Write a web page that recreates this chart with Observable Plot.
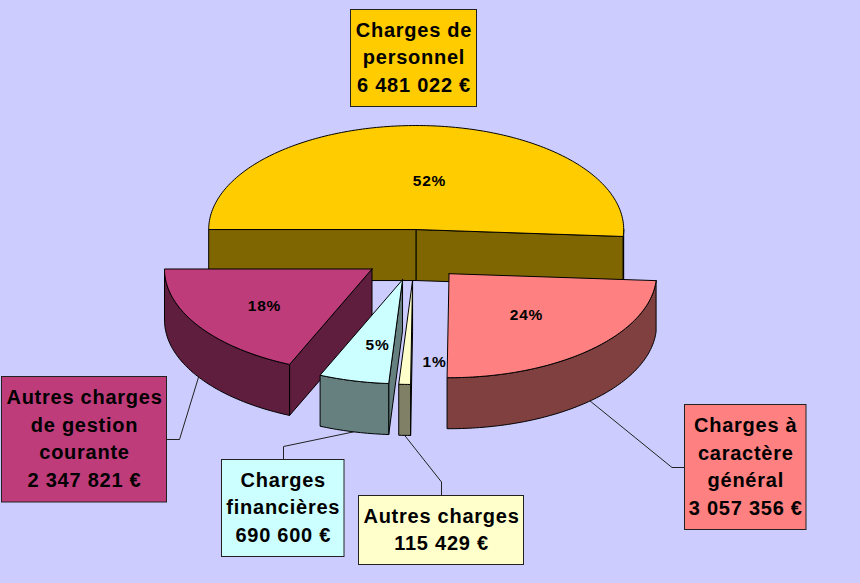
<!DOCTYPE html>
<html>
<head>
<meta charset="utf-8">
<script src="https://cdn.jsdelivr.net/npm/d3@7"></script>
<script src="https://cdn.jsdelivr.net/npm/@observablehq/plot@0.6"></script>
<style>html,body{margin:0;padding:0;background:#CCCCFF}svg{display:block}</style>
</head>
<body>
<div id="chart"></div>
<script>
// Data, clockwise from the left edge of the pie
const categories = ["Charges de\npersonnel", "Charges à\ncaractère\ngénéral", "Autres charges", "Charges\nfinancières", "Autres charges\nde gestion\ncourante"];
const amounts = [6481022, 3057356, 115429, 690600, 2347821];
const amountLabels = ["6 481 022 €", "3 057 356 €", "115 429 €", "690 600 €", "2 347 821 €"];
const percentLabels = ["52%", "24%", "1%", "5%", "18%"];

// Styles
const topColors = ["#FFCC00", "#FF8080", "#FFFFCC", "#CCFFFF", "#BE3C7A"];
const sideColors = ["#806600", "#804040", "#808066", "#668080", "#5F1E3D"];

// Layout of the pie (screen units)
const pie = {cx: 414, cy: 254.5, rx: 207.5, ry: 104, depth: 51, explode: 0.245, start: 180};
const drawOrder = [0, 4, 3, 2, 1];

// Layout of the annotations, one entry per category
const percentX = [429, 526, 434, 377, 264];
const percentY = [181, 315, 362, 345, 306];
const boxX1 = [350.5, 684.5, 358.5, 221.5, 1.5];
const boxX2 = [476.5, 806, 523.5, 344, 166.5];
const boxY1 = [9.5, 404.5, 495.5, 459.5, 376.5];
const boxY2 = [106.5, 529.5, 564.5, 556.5, 502];
const leaderVia = [null, [[671.5, 467], [684.5, 467]], [[441, 481.5], [441, 495.5]], [[283, 446], [283, 459.5]], [[179, 439], [166.5, 439]]];

const total = d3.sum(amounts);
const rad = d => d * Math.PI / 180;
let acc = pie.start;
const slices = amounts.map((v, i) => {
  const t0 = acc, t1 = acc + v / total * 360;
  acc = t1;
  const mid = (t0 + t1) / 2;
  const ox = pie.cx + pie.explode * pie.rx * Math.cos(rad(mid));
  const oy = pie.cy + pie.explode * pie.ry * Math.sin(rad(mid));
  return {i, t0, t1, mid, ox, oy};
});
const rim = (s, t, dz = 0) => ({x: s.ox + pie.rx * Math.cos(rad(t)), y: s.oy + pie.ry * Math.sin(rad(t)) + dz});
const arc = (s, a, b, dz = 0) => {
  const n = Math.max(2, Math.ceil(Math.abs(b - a)));
  return d3.range(n + 1).map(k => rim(s, a + (b - a) * k / n, dz));
};
const closed = pts => [...pts, pts[0]];

const sliceMarks = [];
for (const i of drawOrder) {
  const s = slices[i];
  const apex = {x: s.ox, y: s.oy}, apexLow = {x: s.ox, y: s.oy + pie.depth};
  const shape = (pts, fill) => Plot.line(closed(pts), {x: "x", y: "y", fill, stroke: "#000", strokeWidth: 1, strokeLinejoin: "round"});
  // radial walls that face the viewer
  if (Math.cos(rad(s.t0)) < 0) sliceMarks.push(shape([apex, rim(s, s.t0), rim(s, s.t0, pie.depth), apexLow], sideColors[i]));
  if (Math.cos(rad(s.t1)) > 0) sliceMarks.push(shape([apex, rim(s, s.t1), rim(s, s.t1, pie.depth), apexLow], sideColors[i]));
  // outer wall: the front half of the rim only
  for (const base of [0, 360]) {
    const a = Math.max(s.t0, base), b = Math.min(s.t1, base + 180);
    if (b > a) sliceMarks.push(shape([...arc(s, a, b), ...arc(s, b, a, pie.depth)], sideColors[i]));
  }
  // top face
  sliceMarks.push(shape([apex, ...arc(s, s.t0, s.t1)], topColors[i]));
}

const leaders = slices.flatMap((s, i) => leaderVia[i]
  ? [Plot.line([rim(s, s.mid, pie.depth), ...leaderVia[i].map(([x, y]) => ({x, y}))], {x: "x", y: "y", stroke: "#222", strokeWidth: 1})]
  : []);

const boxes = amounts.map((v, i) => ({
  i,
  x1: boxX1[i], x2: boxX2[i], y1: boxY1[i], y2: boxY2[i],
  label: categories[i] + "\n" + amountLabels[i]
}));

const chart = Plot.plot({
  width: 860, height: 583,
  margin: 0,
  x: {domain: [0, 860], range: [0, 860], axis: null},
  y: {domain: [0, 583], range: [0, 583], axis: null},
  style: {background: "#CCCCFF", fontFamily: "'Liberation Sans', Arial, sans-serif", letterSpacing: "0.75px"},
  marks: [
    ...leaders,
    ...sliceMarks,
    Plot.text(percentLabels.map((p, i) => ({p, x: percentX[i], y: percentY[i]})), {x: "x", y: "y", text: "p", fontSize: 15.5, fontWeight: "bold", fill: "#000"}),
    Plot.rect(boxes, {x1: "x1", x2: "x2", y1: "y1", y2: "y2", fill: d => topColors[d.i], stroke: "#222", strokeWidth: 1}),
    Plot.text(boxes, {x: d => (d.x1 + d.x2) / 2, y: d => (d.y1 + d.y2) / 2 - 3, text: "label", fontSize: 20, fontWeight: "bold", lineHeight: 1.38, fill: "#000"})
  ]
});
document.getElementById("chart").append(chart);
</script>
</body>
</html>
